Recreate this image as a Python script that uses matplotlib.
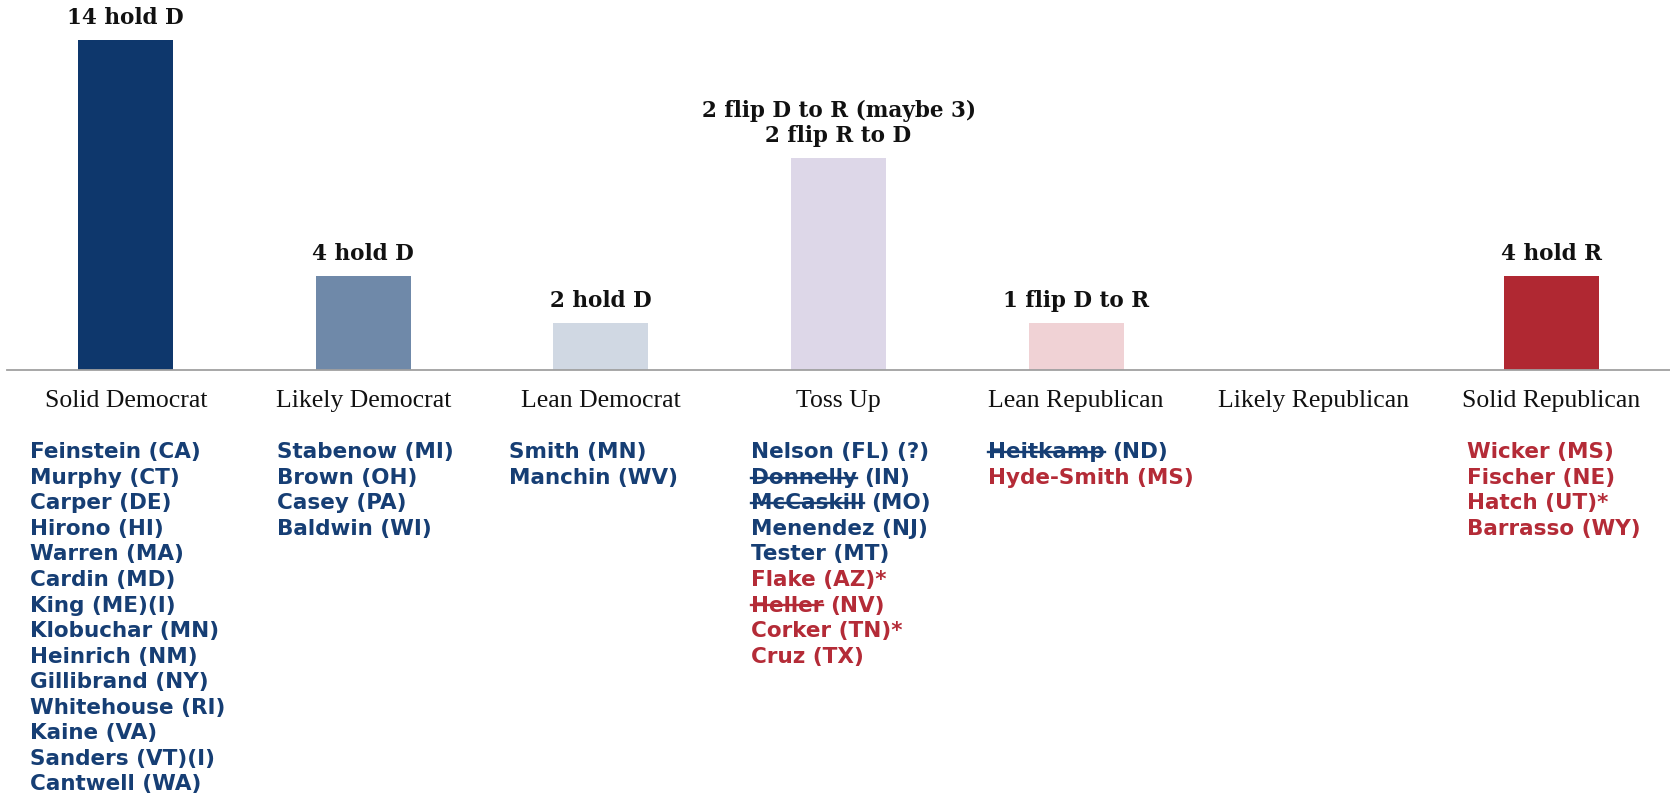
import matplotlib
matplotlib.use("Agg")
import matplotlib.pyplot as plt
from matplotlib import transforms
from matplotlib.lines import Line2D

# ── data ─────────────────────────────────────────────────────────────────────
categories = ["Solid Democrat", "Likely Democrat", "Lean Democrat", "Toss Up",
              "Lean Republican", "Likely Republican", "Solid Republican"]
seats = [14, 4, 2, 9, 2, 0, 4]
bar_labels = ["14 hold D", "4 hold D", "2 hold D",
              "2 flip D to R (maybe 3)\n2 flip R to D", "1 flip D to R", "",
              "4 hold R"]

solid_dem = ["Feinstein (CA)", "Murphy (CT)", "Carper (DE)", "Hirono (HI)",
             "Warren (MA)", "Cardin (MD)", "King (ME)(I)", "Klobuchar (MN)",
             "Heinrich (NM)", "Gillibrand (NY)", "Whitehouse (RI)",
             "Kaine (VA)", "Sanders (VT)(I)", "Cantwell (WA)"]
likely_dem = ["Stabenow (MI)", "Brown (OH)", "Casey (PA)", "Baldwin (WI)"]
lean_dem = ["Smith (MN)", "Manchin (WV)"]
toss_up = ["Nelson (FL) (?)", "Donnelly (IN)", "McCaskill (MO)",
           "Menendez (NJ)", "Tester (MT)", "Flake (AZ)*", "Heller (NV)",
           "Corker (TN)*", "Cruz (TX)"]
lean_rep = ["Heitkamp (ND)", "Hyde-Smith (MS)"]
likely_rep = []
solid_rep = ["Wicker (MS)", "Fischer (NE)", "Hatch (UT)*", "Barrasso (WY)"]

# party of each incumbent, per column
solid_dem_party = "DDDDDDDDDDDDDD"
likely_dem_party = "DDDD"
lean_dem_party = "DD"
toss_up_party = "DDDDDRRRR"
lean_rep_party = "DR"
likely_rep_party = ""
solid_rep_party = "RRRR"

struck = ["Donnelly", "McCaskill", "Heller", "Heitkamp"]

# ── style ────────────────────────────────────────────────────────────────────
BAR_COLORS = ["#0e376c", "#6f89a9", "#d0d8e3", "#ddd7e8", "#f0d2d5",
              "#e8b4b8", "#b02832"]
BLUE = "#163e74"
RED = "#b42b37"
NAME_OFFSET = [0.404, 0.362, 0.387, 0.370, 0.370, 0.36, 0.354]
NAME_SIZE = 15.5
FIRST_BASE = 63.5   # points below axis line to first name baseline
STEP = 18.4         # points between name lines

fig = plt.figure(figsize=(16.7, 7.95), dpi=100)
fig.patch.set_facecolor("white")
ax = fig.add_axes([7 / 1670, (795 - 370) / 795, 1663 / 1670, 370 / 795])
ax.set_xlim(-0.5, 6.5)
ax.set_ylim(0, 15.7)

x = list(range(len(categories)))
ax.bar(x, seats, width=0.40, color=BAR_COLORS)

for i, (v, lbl) in enumerate(zip(seats, bar_labels)):
    if lbl:
        ax.annotate(lbl, xy=(i, v), xytext=(0, 11.5), textcoords="offset points",
                    ha="center", va="baseline", fontsize=15.5,
                    fontfamily="DejaVu Serif", fontweight="bold",
                    linespacing=1.2, color="#111111")

for s in ("top", "left", "right"):
    ax.spines[s].set_visible(False)
ax.spines["bottom"].set_color("#a0a0a0")
ax.spines["bottom"].set_linewidth(1.3)
ax.set_yticks([])
ax.set_xticks(x)
ax.set_xticklabels(categories, fontfamily="Liberation Serif", fontsize=18.5,
                   color="#111111")
ax.tick_params(axis="x", length=0, pad=14.5)

# ── incumbent lists under each category ──────────────────────────────────────
columns = [(solid_dem, solid_dem_party), (likely_dem, likely_dem_party),
           (lean_dem, lean_dem_party), (toss_up, toss_up_party),
           (lean_rep, lean_rep_party), (likely_rep, likely_rep_party),
           (solid_rep, solid_rep_party)]

renderer = fig.canvas.get_renderer()
base_tr = ax.get_xaxis_transform()
font = dict(fontsize=NAME_SIZE, fontfamily="DejaVu Sans", fontweight="bold",
            va="baseline", ha="left", clip_on=False)

for i, (names, parties) in enumerate(columns):
    xl = i - NAME_OFFSET[i]
    for k, (name, p) in enumerate(zip(names, parties)):
        color = BLUE if p == "D" else RED
        tr = transforms.offset_copy(base_tr, fig=fig, x=0,
                                    y=-(FIRST_BASE + k * STEP), units="points")
        head, _, tail = name.partition(" (")
        if head in struck:
            t = ax.text(xl, 0, head, transform=tr, color=color, **font)
            bb = t.get_window_extent(renderer)
            base_px = tr.transform((xl, 0))[1]
            ys = base_px + 0.29 * NAME_SIZE * fig.dpi / 72
            (fx0, fy), (fx1, _) = fig.transFigure.inverted().transform(
                [(bb.x0, ys), (bb.x1, ys)])
            fig.add_artist(Line2D([fx0, fx1], [fy, fy], color=color, lw=1.7))
            w_pt = bb.width * 72 / fig.dpi + 0.348 * NAME_SIZE
            tr2 = transforms.offset_copy(tr, fig=fig, x=w_pt, y=0, units="points")
            ax.text(xl, 0, "(" + tail, transform=tr2, color=color, **font)
        else:
            ax.text(xl, 0, name, transform=tr, color=color, **font)

plt.savefig("out.png", dpi=100, facecolor="white")
